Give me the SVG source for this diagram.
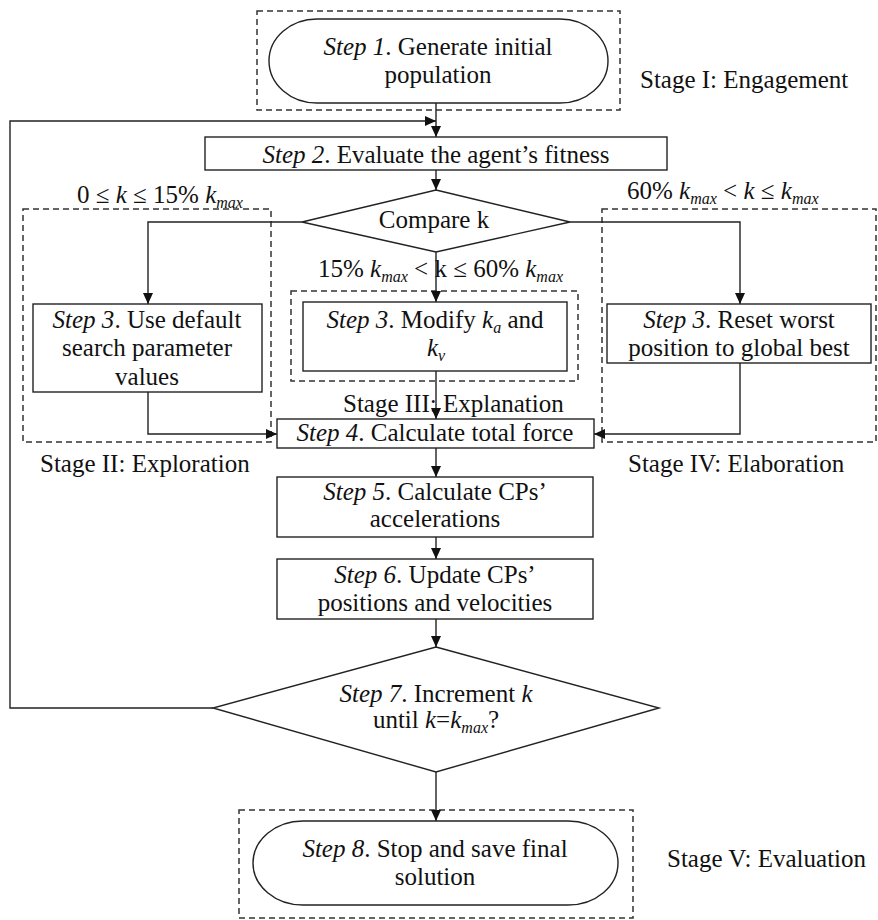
<svg xmlns="http://www.w3.org/2000/svg" width="878" height="920" viewBox="0 0 878 920" font-family="'Liberation Serif', 'DejaVu Serif', Times, serif">
<style>
text{font-family:'Liberation Serif','Times New Roman','DejaVu Serif',Times,serif;font-size:25px;fill:#111;}
.m{text-anchor:middle;}
.i{font-style:italic;}
.s{font-size:16px;font-style:italic;}
.box{fill:#fff;stroke:#222;stroke-width:1.4;}
.dash{fill:none;stroke:#333;stroke-width:1.5;stroke-dasharray:6 4;}
.ln{fill:none;stroke:#222;stroke-width:1.4;}
</style>
<defs>
<marker id="ah" markerUnits="userSpaceOnUse" markerWidth="11" markerHeight="10" refX="11" refY="5" orient="auto">
<path d="M0,0 L11,5 L0,10 z" fill="#111"/>
</marker>
</defs>
<rect width="878" height="920" fill="#fff"/>

<g id="stages">
<rect class="dash" x="257" y="11" width="363" height="99"/>
<rect class="dash" x="23" y="209" width="248" height="233"/>
<rect class="dash" x="291" y="291" width="287" height="90"/>
<rect class="dash" x="602" y="209" width="274" height="233"/>
<rect class="dash" x="239" y="810" width="394" height="108"/>
<text x="640" y="88">Stage I: Engagement</text>
<text x="40" y="472">Stage II: Exploration</text>
<text x="343" y="412">Stage III: Explanation</text>
<text x="628" y="472">Stage IV: Elaboration</text>
<text x="667" y="867">Stage V: Evaluation</text>
</g>

<g id="connectors">
<line class="ln" x1="436" y1="103" x2="436" y2="137" marker-end="url(#ah)"/>
<polyline class="ln" points="213,708 10,708 10,121 436,121" marker-end="url(#ah)"/>
<line class="ln" x1="436" y1="170" x2="436" y2="190" marker-end="url(#ah)"/>
<polyline class="ln" points="302,222 148,222 148,304" marker-end="url(#ah)"/>
<polyline class="ln" points="570,222 740,222 740,304" marker-end="url(#ah)"/>
<line class="ln" x1="436" y1="252" x2="436" y2="302" marker-end="url(#ah)"/>
<line class="ln" x1="436" y1="371" x2="436" y2="419" marker-end="url(#ah)"/>
<polyline class="ln" points="148,392 148,434 277,434" marker-end="url(#ah)"/>
<polyline class="ln" points="740,363 740,434 594,434" marker-end="url(#ah)"/>
<line class="ln" x1="436" y1="448" x2="436" y2="477" marker-end="url(#ah)"/>
<line class="ln" x1="436" y1="537" x2="436" y2="559" marker-end="url(#ah)"/>
<line class="ln" x1="436" y1="619" x2="436" y2="647" marker-end="url(#ah)"/>
<line class="ln" x1="436" y1="772" x2="436" y2="821" marker-end="url(#ah)"/>
</g>

<g id="labels">
<text x="77" y="203">0 ≤ <tspan class="i">k</tspan> ≤ 15% <tspan class="i">k</tspan><tspan class="s" dy="5">max</tspan></text>
<text x="627" y="199">60% <tspan class="i">k</tspan><tspan class="s" dy="5">max</tspan><tspan dy="-5"> &lt; </tspan><tspan class="i">k</tspan> ≤  <tspan class="i">k</tspan><tspan class="s" dy="5">max</tspan></text>
<text x="318" y="277">15% <tspan class="i">k</tspan><tspan class="s" dy="5">max</tspan><tspan dy="-5"> &lt; k ≤ 60% </tspan><tspan class="i">k</tspan><tspan class="s" dy="5">max</tspan></text>
</g>

<g id="step1">
<rect class="box" x="269" y="19" width="339" height="84" rx="48" ry="42"/>
<text class="m" x="438" y="55"><tspan class="i">Step 1</tspan>. Generate initial</text>
<text class="m" x="438" y="83">population</text>
</g>

<g id="step2">
<rect class="box" x="205" y="137" width="462" height="33"/>
<text class="m" x="436" y="163"><tspan class="i">Step 2</tspan>. Evaluate the agent’s fitness</text>
</g>

<g id="compare">
<polygon class="box" points="436,190 570,222 436,252 302,222"/>
<text class="m" x="434" y="228">Compare k</text>
</g>

<g id="step3a">
<rect class="box" x="33" y="304" width="229" height="88"/>
<text class="m" x="147" y="328"><tspan class="i">Step 3</tspan>. Use default</text>
<text class="m" x="147" y="356">search parameter</text>
<text class="m" x="147" y="385">values</text>
</g>

<g id="step3b">
<rect class="box" x="303" y="302" width="264" height="69"/>
<text class="m" x="435" y="328"><tspan class="i">Step 3</tspan>. Modify <tspan class="i">k</tspan><tspan class="s" dy="5">a</tspan><tspan dy="-5"> and</tspan></text>
<text class="m" x="436" y="356"><tspan class="i">k</tspan><tspan class="s" dy="5">v</tspan></text>
</g>

<g id="step3c">
<rect class="box" x="607" y="304" width="264" height="59"/>
<text class="m" x="739" y="328"><tspan class="i">Step 3</tspan>. Reset worst</text>
<text class="m" x="739" y="356">position to global best</text>
</g>

<g id="step4">
<rect class="box" x="277" y="419" width="317" height="29"/>
<text class="m" x="435" y="441"><tspan class="i">Step 4</tspan>. Calculate total force</text>
</g>

<g id="step5">
<rect class="box" x="277" y="477" width="316" height="60"/>
<text class="m" x="435" y="500"><tspan class="i">Step 5</tspan>. Calculate CPs’</text>
<text class="m" x="435" y="527">accelerations</text>
</g>

<g id="step6">
<rect class="box" x="277" y="559" width="316" height="60"/>
<text class="m" x="435" y="583"><tspan class="i">Step 6</tspan>. Update CPs’</text>
<text class="m" x="435" y="611">positions and velocities</text>
</g>

<g id="step7">
<polygon class="box" points="436,647 659,708 436,772 213,708"/>
<text class="m" x="436" y="702"><tspan class="i">Step 7</tspan>. Increment <tspan class="i">k</tspan></text>
<text class="m" x="436" y="728">until <tspan class="i">k</tspan>=<tspan class="i">k</tspan><tspan class="s" dy="5">max</tspan><tspan dy="-5">?</tspan></text>
</g>

<g id="step8">
<rect class="box" x="253" y="821" width="365" height="84" rx="50" ry="42"/>
<text class="m" x="435" y="857"><tspan class="i">Step 8</tspan>. Stop and save final</text>
<text class="m" x="435" y="885">solution</text>
</g>
</svg>
